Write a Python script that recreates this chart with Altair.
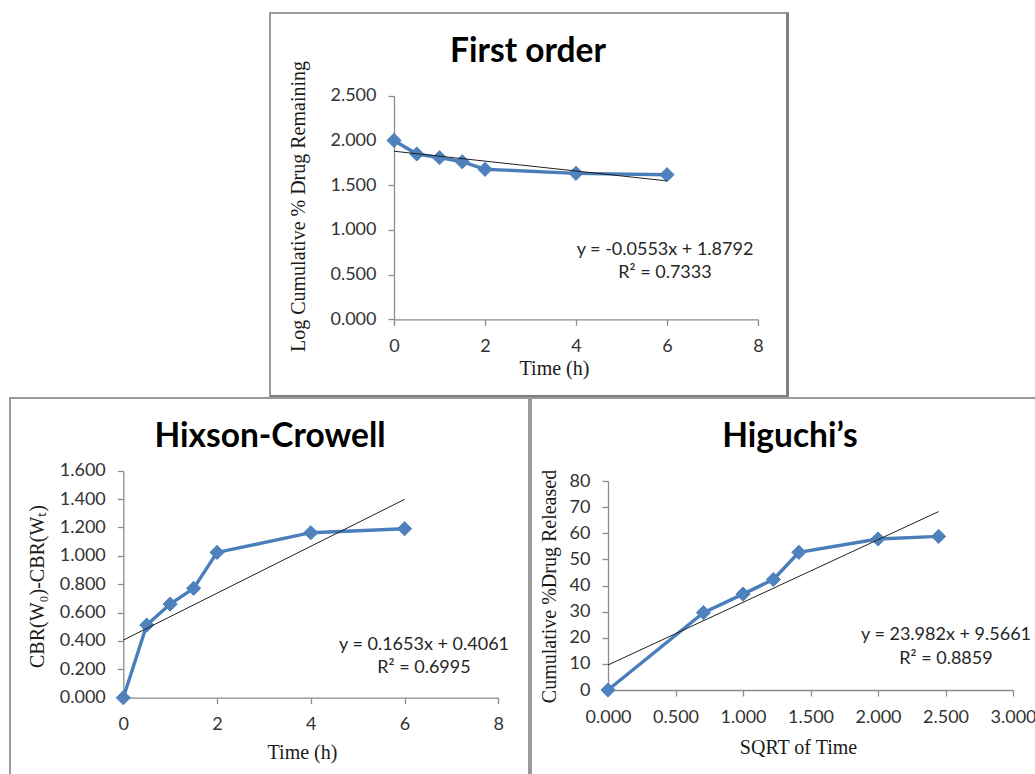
import altair as alt
import pandas as pd

# ---------------- data ----------------
# First order panel
fo_time = [0, 0.5, 1, 1.5, 2, 4, 6]
fo_log_remaining = [2.000, 1.848, 1.807, 1.762, 1.677, 1.632, 1.617]
fo_trend_x = [0, 6]
fo_trend_y = [1.8792, 1.5474]
fo_x_ticks = [0, 2, 4, 6, 8]
fo_y_ticks = [0.0, 0.5, 1.0, 1.5, 2.0, 2.5]

# Hixson-Crowell panel
hc_time = [0, 0.5, 1, 1.5, 2, 4, 6]
hc_cbr = [0.000, 0.512, 0.660, 0.771, 1.024, 1.163, 1.191]
hc_trend_x = [0, 6]
hc_trend_y = [0.4061, 1.3979]
hc_x_ticks = [0, 2, 4, 6, 8]
hc_y_ticks = [0.0, 0.2, 0.4, 0.6, 0.8, 1.0, 1.2, 1.4, 1.6]

# Higuchi panel
hg_sqrt_time = [0.000, 0.707, 1.000, 1.225, 1.414, 2.000, 2.449]
hg_released = [0.0, 29.6, 36.7, 42.3, 52.7, 57.8, 58.8]
hg_trend_x = [0, 2.449]
hg_trend_y = [9.5661, 68.30]
hg_x_ticks = [0.0, 0.5, 1.0, 1.5, 2.0, 2.5, 3.0]
hg_y_ticks = [0, 10, 20, 30, 40, 50, 60, 70, 80]

titles = ["First order", "Hixson-Crowell", "Higuchi\u2019s"]
x_titles = ["Time (h)", "Time (h)", "SQRT of Time"]
y_titles = ["Log Cumulative % Drug Remaining", "CBR(W\u2080)-CBR(W\u209c)", "Cumulative %Drug Released"]
equations = ["y = -0.0553x + 1.8792", "y = 0.1653x + 0.4061", "y = 23.982x + 9.5661"]
r_squared = ["R\u00b2 = 0.7333", "R\u00b2 = 0.6995", "R\u00b2 = 0.8859"]

# ---------------- styling ----------------
W, H = 1035, 774
BLUE_LINE = "#4A7EBB"
BLUE_FILL = "#4F81BD"
AXIS_GRAY = "#8C8C8C"
LABEL_COLOR = "#333333"
SANS = "Lato"
SERIF = "Liberation Serif"

dummy = pd.DataFrame({"d": [0]})


def axis(orient, values, fmt, title, offset, title_x, title_y):
    return alt.Axis(
        orient=orient, values=values, format=fmt, title=title, offset=offset,
        grid=False, domainColor=AXIS_GRAY, domainWidth=1.3,
        tickColor=AXIS_GRAY, tickSize=6, tickWidth=1.3,
        labelFont=SANS, labelFontSize=18, labelColor=LABEL_COLOR,
        labelPadding=12, labelFlush=False, labelOverlap=False,
        titleFont=SERIF, titleFontSize=20, titleFontWeight="normal",
        titleColor="#1a1a1a", titleX=title_x, titleY=title_y,
        titleBaseline="middle", titleAlign="center",
    )


def panel(xs, ys, tx, ty, xdom, ydom, xrng, yrng, xticks, yticks, xfmt, yfmt,
          xtitle, ytitle, xtitle_pos, ytitle_pos):
    data = pd.DataFrame({"x": xs, "y": ys})
    trend = pd.DataFrame({"x": tx, "y": ty})
    xscale = alt.Scale(domain=xdom, range=xrng, nice=False, zero=False)
    yscale = alt.Scale(domain=ydom, range=yrng, nice=False, zero=False)
    x_axis = axis("bottom", xticks, xfmt, xtitle, yrng[0] - H,
                  xtitle_pos[0], xtitle_pos[1] - yrng[0])
    y_axis = axis("left", yticks, yfmt, ytitle, -xrng[0],
                  ytitle_pos[0] - xrng[0], ytitle_pos[1])
    enc = dict(
        x=alt.X("x:Q", scale=xscale, axis=x_axis),
        y=alt.Y("y:Q", scale=yscale, axis=y_axis),
    )
    line = alt.Chart(data).mark_line(color=BLUE_LINE, strokeWidth=3.4).encode(**enc)
    pts = alt.Chart(data).mark_point(
        shape="diamond", size=200, filled=True, color=BLUE_FILL, opacity=1,
        stroke=BLUE_LINE, strokeWidth=1,
    ).encode(**enc)
    tr = alt.Chart(trend).mark_line(color="#1f1f1f", strokeWidth=1).encode(**enc)
    return alt.layer(line, pts, tr)


def text(label, x, y, size, weight="normal", font=SANS, color="#262626"):
    return alt.Chart(dummy).mark_text(
        font=font, fontSize=size, fontWeight=weight, color=color,
        align="center", baseline="middle",
    ).encode(x=alt.value(x), y=alt.value(y), text=alt.value(label))


def box(x, x2, y, y2):
    return alt.Chart(dummy).mark_rect(
        fill="white", fillOpacity=0, stroke="#9A9A9A", strokeWidth=2,
    ).encode(x=alt.value(x), x2=alt.value(x2), y=alt.value(y), y2=alt.value(y2))


def rule(x, x2, y, y2, width, color="#7F7F7F"):
    return alt.Chart(dummy).mark_rule(color=color, strokeWidth=width).encode(
        x=alt.value(x), x2=alt.value(x2), y=alt.value(y), y2=alt.value(y2))


frames = [
    box(270, 788, 13, 397),
    rule(787.5, 787.5, 13, 398, 3),
    rule(270, 789, 396.5, 396.5, 3),
    box(10, 529, 398, 780),
    box(531, 1045, 398, 780),
]

p1 = panel(fo_time, fo_log_remaining, fo_trend_x, fo_trend_y,
           [0, 8], [0, 2.5], [394, 758], [319.3, 95.7],
           fo_x_ticks, fo_y_ticks, "d", ".3f",
           x_titles[0], y_titles[0], (554, 368), (298, 206))
p2 = panel(hc_time, hc_cbr, hc_trend_x, hc_trend_y,
           [0, 8], [0, 1.6], [123.3, 498.3], [697.7, 470.7],
           hc_x_ticks, hc_y_ticks, "d", ".3f",
           x_titles[1], y_titles[1], (302, 752), (37, 586))
p3 = panel(hg_sqrt_time, hg_released, hg_trend_x, hg_trend_y,
           [0, 3], [0, 80], [608, 1013], [690, 481],
           hg_x_ticks, hg_y_ticks, ".3f", "d",
           x_titles[2], y_titles[2], (798, 747), (549, 586))

labels = [
    text(titles[0], 528, 52, 33.5, "bold", color="#000000"),
    text(titles[1], 270, 437, 33.5, "bold", color="#000000"),
    text(titles[2], 790, 437, 33.5, "bold", color="#000000"),
    text(equations[0], 665, 250, 18),
    text(r_squared[0], 665, 273, 18),
    text(equations[1], 424, 645, 18),
    text(r_squared[1], 424, 668, 18),
    text(equations[2], 946, 635, 18),
    text(r_squared[2], 946, 659, 18),
]

chart = alt.layer(*frames, p1, p2, p3, *labels).resolve_scale(
    x="independent", y="independent"
).resolve_axis(
    x="independent", y="independent"
).properties(
    width=W, height=H, padding=0,
    autosize=alt.AutoSizeParams(type="none"),
    background="white",
).configure_view(strokeWidth=0)

chart.save("out.html", embed_options={"renderer": "svg", "actions": False})
